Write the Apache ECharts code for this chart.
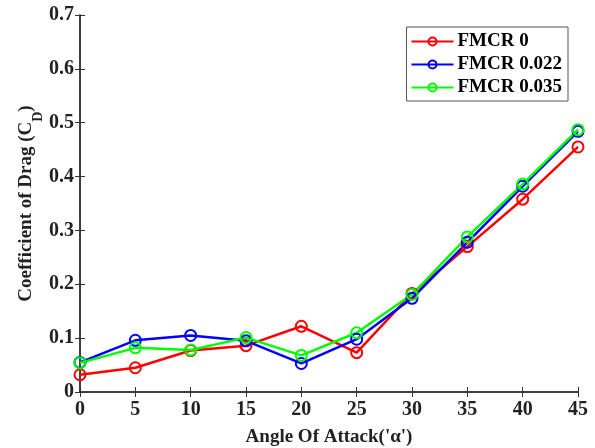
<!DOCTYPE html>
<html><head><meta charset="utf-8">
<script src="https://cdn.jsdelivr.net/npm/echarts@6/dist/echarts.min.js"></script>
<style>html,body{margin:0;padding:0;background:#fff}#c{width:595px;height:448px}</style>
</head><body><div id="c"></div>
<script>
const angles = [0, 5, 10, 15, 20, 25, 30, 35, 40, 45];
const fmcr0 = [0.032, 0.045, 0.077, 0.086, 0.122, 0.073, 0.183, 0.270, 0.358, 0.455];
const fmcr022 = [0.055, 0.096, 0.105, 0.095, 0.053, 0.098, 0.174, 0.278, 0.382, 0.484];
const fmcr035 = [0.054, 0.082, 0.078, 0.101, 0.068, 0.110, 0.181, 0.288, 0.386, 0.487];
const seriesNames = ['FMCR 0', 'FMCR 0.022', 'FMCR 0.035'];
const colors = ['#ff0000', '#0000ff', '#00ff00'];

const font = 'Liberation Serif';
const axisCol = '#333';
function mk(name, vals, color) {
  return {
    name, type: 'line', data: angles.map((a, i) => [a, vals[i]]),
    symbol: 'circle', symbolSize: 11, showSymbol: true,
    lineStyle: { color, width: 2.5 },
    itemStyle: { color: 'transparent', borderColor: color, borderWidth: 2 },
    emphasis: { disabled: true }
  };
}
const chart = echarts.init(document.getElementById('c'));
chart.setOption({
  animation: false,
  backgroundColor: '#fff',
  grid: { left: 80, right: 17, top: 15, bottom: 56, containLabel: false, outerBoundsMode: 'none' },
  legend: {
    right: 27, top: 27, orient: 'vertical',
    backgroundColor: '#fff', borderColor: '#555', borderWidth: 1,
    padding: [5, 6, 4, 4], itemGap: 4, itemWidth: 42, itemHeight: 10,
    textStyle: { fontFamily: font, fontWeight: 'bold', fontSize: 19, color: '#000', padding: [0, 0, 0, -1] },
    data: seriesNames
  },
  xAxis: [{
    type: 'value', min: 0, max: 45, interval: 5,
    name: "Angle Of Attack('\u03b1')", nameLocation: 'middle', nameGap: 36,
    nameTextStyle: { fontFamily: font, fontWeight: 'bold', fontSize: 19, color: '#222' },
    axisLine: { show: true, lineStyle: { color: axisCol, width: 1.5 } },
    axisTick: { show: true, inside: true, length: 5, lineStyle: { color: axisCol } },
    axisLabel: { fontFamily: font, fontWeight: 'bold', fontSize: 20, color: '#222', margin: 8 },
    splitLine: { show: false }
  }, {
    type: 'value', min: 0, max: 45, interval: 5, position: 'top',
    axisLine: { show: true, lineStyle: { color: axisCol, width: 1.5 } },
    axisTick: { show: true, inside: true, length: 5, lineStyle: { color: axisCol } },
    axisLabel: { show: false }, splitLine: { show: false }
  }],
  yAxis: [{
    type: 'value', min: 0, max: 0.7, interval: 0.1,
    name: '{a|Coefficient of Drag (C}{s|D}{a|)}', nameLocation: 'middle', nameGap: 44,
    nameMoveOverlap: false,
    nameTextStyle: {
      rich: {
        a: { fontFamily: font, fontWeight: 'bold', fontSize: 19, color: '#222' },
        s: { fontFamily: font, fontWeight: 'bold', fontSize: 14, color: '#222', verticalAlign: 'bottom', padding: [0, 0, -9, 0] }
      }
    },
    axisLine: { show: true, lineStyle: { color: axisCol, width: 1.5 } },
    axisTick: { show: true, inside: true, length: 5, lineStyle: { color: axisCol } },
    axisLabel: { fontFamily: font, fontWeight: 'bold', fontSize: 20, color: '#222', margin: 6,
      formatter: v => (Math.round(v * 10) / 10).toString() },
    splitLine: { show: false }
  }, {
    type: 'value', min: 0, max: 0.7, interval: 0.1, position: 'right',
    axisLine: { show: true, lineStyle: { color: axisCol, width: 1.5 } },
    axisTick: { show: true, inside: true, length: 5, lineStyle: { color: axisCol } },
    axisLabel: { show: false }, splitLine: { show: false }
  }],
  series: [mk(seriesNames[0], fmcr0, colors[0]), mk(seriesNames[1], fmcr022, colors[1]), mk(seriesNames[2], fmcr035, colors[2])]
});
</script></body></html>
